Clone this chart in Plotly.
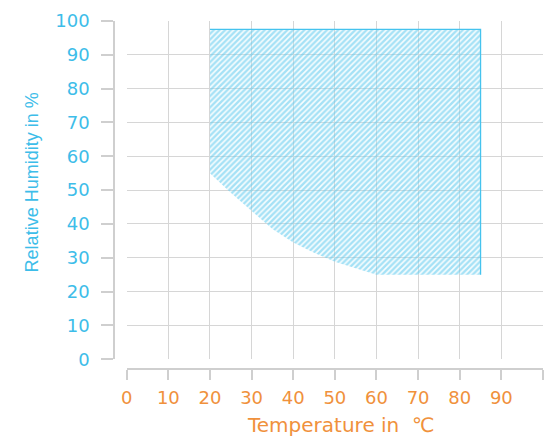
import plotly.graph_objects as go

# Data: operating region boundary (temperature in °C, relative humidity in %)
region_temp = [20, 20, 85, 85, 60, 55, 50, 45, 40, 35, 30, 25, 20]
region_rh = [55, 97.5, 97.5, 25, 25, 26.8, 28.8, 31.5, 34.5, 38.5, 43.8, 49.2, 55]
edge_temp = [20, 85, 85]
edge_rh = [97.5, 97.5, 25]

x_ticks = [0, 10, 20, 30, 40, 50, 60, 70, 80, 90, 100]
x_ticktext = ["0", "10", "20", "30", "40", "50", "60", "70", "80", "90", ""]
y_ticks = [0, 10, 20, 30, 40, 50, 60, 70, 80, 90, 100]
x_title = "Temperature in  ℃"
y_title = "Relative Humidity in %"

CYAN = "#3dbde9"
HATCH = "#52c6ee"
ORANGE = "#f0913c"
GRID = "#d6d6d6"
AXIS = "#cfcfcf"

fig = go.Figure()
fig.add_trace(go.Scatter(
    x=region_temp, y=region_rh, mode="lines", fill="toself",
    line=dict(width=0, color=HATCH),
    fillcolor="rgba(0,0,0,0)",
    fillpattern=dict(shape="/", fgcolor=HATCH, bgcolor="rgba(220,245,252,0.2)",
                     size=4, solidity=0.6),
    hoverinfo="skip", showlegend=False, xaxis="x", yaxis="y"))
fig.add_trace(go.Scatter(
    x=edge_temp, y=edge_rh, mode="lines",
    line=dict(width=1.3, color="#45c3ee"),
    hoverinfo="skip", showlegend=False, xaxis="x", yaxis="y"))
# invisible trace that carries the detached axes
fig.add_trace(go.Scatter(
    x=edge_temp, y=edge_rh, mode="lines", line=dict(width=0),
    opacity=0, hoverinfo="skip", showlegend=False, xaxis="x2", yaxis="y2"))

xdom = [0.0296, 1]
ydom = [0.0279, 1]

fig.update_layout(
    width=552, height=438,
    margin=dict(l=106, r=17, t=13, b=77, autoexpand=False),
    paper_bgcolor="white", plot_bgcolor="white",
    font=dict(family="DejaVu Sans", size=18),
    xaxis=dict(domain=xdom, range=[0, 100], anchor="y", tickvals=x_ticks,
               showticklabels=False, showgrid=True, gridcolor=GRID, gridwidth=1,
               zeroline=False, showline=False, ticks="", automargin=False),
    yaxis=dict(domain=ydom, range=[0, 100], anchor="x", tickvals=y_ticks,
               showticklabels=False, showgrid=True, gridcolor=GRID, gridwidth=1,
               zeroline=False, showline=False, ticks="", automargin=False),
    xaxis2=dict(domain=xdom, matches="x", overlaying="x", anchor="free", position=0,
                tickvals=x_ticks, ticktext=x_ticktext, showgrid=False, zeroline=False,
                showline=True, linecolor=AXIS, linewidth=1.5, automargin=False,
                ticks="outside", ticklen=10, tickcolor=AXIS, tickwidth=1.5,
                tickfont=dict(color=ORANGE, size=18, family="DejaVu Sans"),
                ticklabelstandoff=3),
    yaxis2=dict(domain=ydom, matches="y", overlaying="y", anchor="free", position=0,
                tickvals=y_ticks, showgrid=False, zeroline=False,
                showline=True, linecolor=AXIS, linewidth=1.5, automargin=False,
                ticks="outside", ticklen=12, tickcolor=AXIS, tickwidth=1.5,
                tickfont=dict(color=CYAN, size=18, family="DejaVu Sans"),
                ticklabelstandoff=8),
    annotations=[
        dict(text=x_title, xref="paper", yref="paper", x=0.529, y=-0.16,
             xanchor="center", yanchor="middle", showarrow=False,
             font=dict(color=ORANGE, size=20, family="DejaVu Sans")),
        dict(text=y_title, xref="paper", yref="paper", x=-0.189, y=0.536,
             xanchor="center", yanchor="middle", showarrow=False, textangle=-90,
             font=dict(color=CYAN, size=18, family="Liberation Sans")),
    ],
)

fig.write_html("out.html")
